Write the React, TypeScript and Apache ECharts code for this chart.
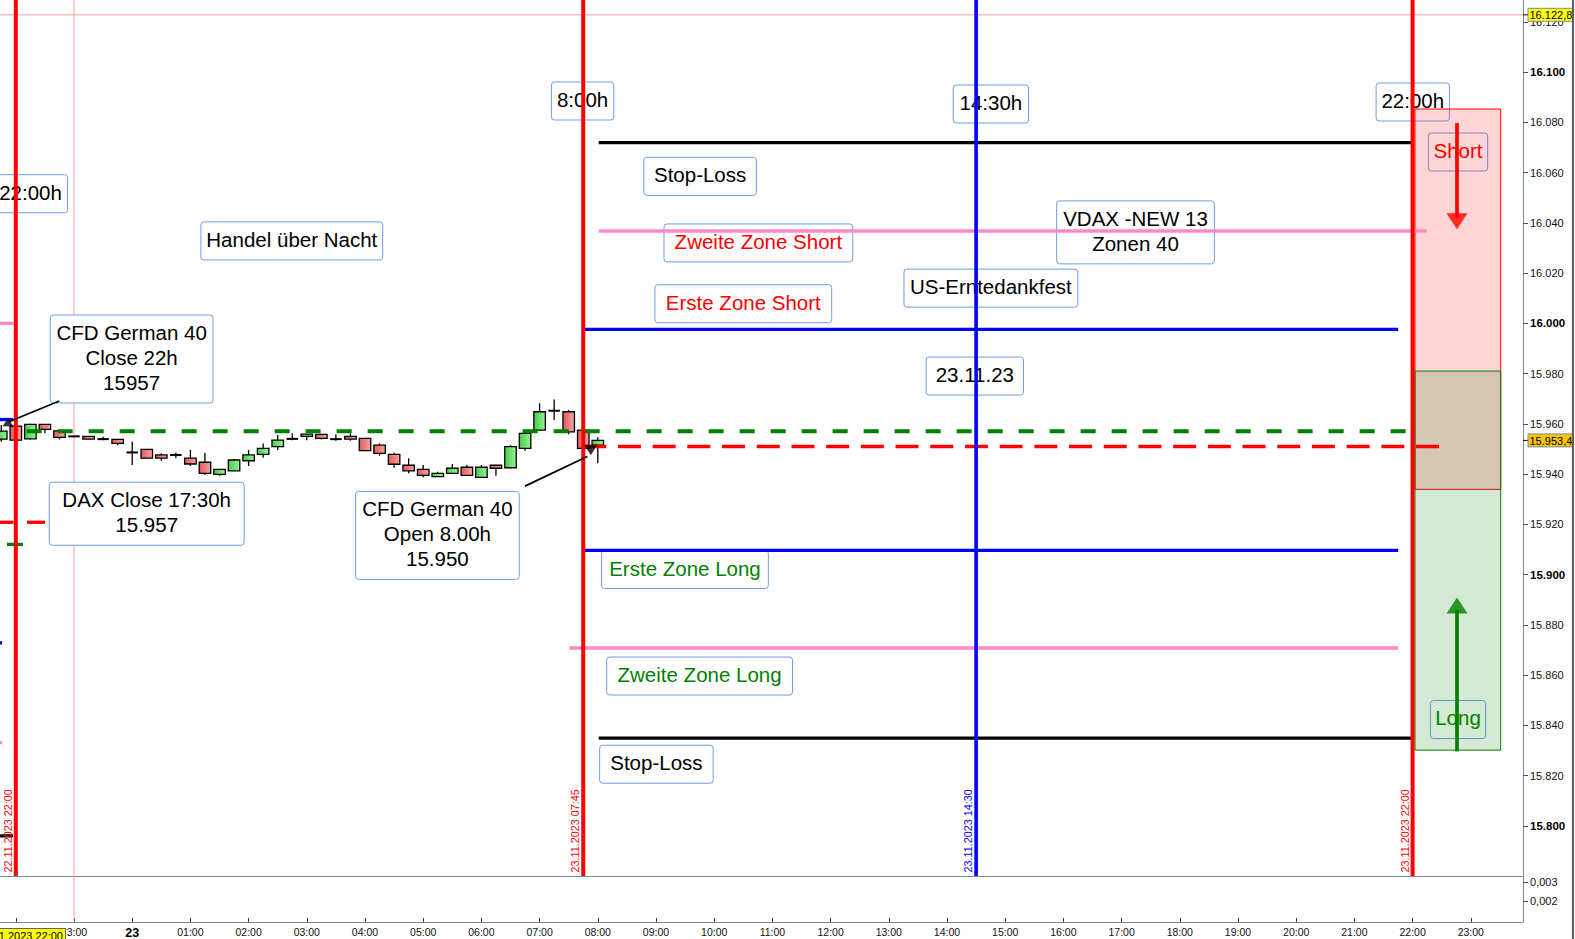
import React, { useEffect, useRef } from 'react';
import * as echarts from 'echarts';

// x values are hours relative to 23.11.2023 00:00 (negative = evening of 22.11.2023)
const X_MIN = -2.2715;
const X_MAX = 23.897;
const Y_MIN = 15780;
const Y_MAX = 16128.7;

// 15-minute candles
const candleTimes = [-2.25, -2, -1.75, -1.5, -1.25, -1, -0.75, -0.5, -0.25, 0, 0.25, 0.5, 0.75, 1, 1.25, 1.5, 1.75, 2, 2.25, 2.5, 2.75, 3, 3.25, 3.5, 3.75, 4, 4.25, 4.5, 4.75, 5, 5.25, 5.5, 5.75, 6, 6.25, 6.5, 6.75, 7, 7.25, 7.5, 7.75, 8];
const candleOpen = [15953.9, 15959.1, 15954.0, 15959.8, 15957.2, 15955.0, 15955.0, 15953.9, 15953.8, 15948.6, 15949.8, 15947.6, 15947.6, 15946.3, 15944.7, 15939.9, 15941.3, 15945.3, 15947.8, 15950.9, 15954.0, 15955.0, 15955.8, 15953.9, 15955.0, 15954.2, 15951.5, 15947.8, 15943.5, 15941.9, 15939.0, 15940.3, 15942.7, 15938.7, 15943.5, 15942.5, 15950.2, 15957.5, 15965.2, 15964.8, 15957.5, 15951.5];
const candleClose = [15957.1, 15953.5, 15959.8, 15957.8, 15954.6, 15955.0, 15953.9, 15953.9, 15952.2, 15948.6, 15946.3, 15946.3, 15947.6, 15944.0, 15940.3, 15941.9, 15945.6, 15947.6, 15950.2, 15953.5, 15954.0, 15955.9, 15954.2, 15953.9, 15953.9, 15949.3, 15948.2, 15943.9, 15941.3, 15939.5, 15940.3, 15942.3, 15939.5, 15942.7, 15942.3, 15950.9, 15956.2, 15964.8, 15965.2, 15956.8, 15950.2, 15953.4];
const candleLow = [15952.9, 15953.0, 15953.8, 15956.2, 15953.8, 15954.9, 15953.9, 15953.5, 15951.5, 15943.6, 15946.3, 15945.3, 15946.3, 15943.2, 15939.6, 15939.3, 15941.3, 15943.2, 15946.5, 15949.6, 15953.5, 15953.5, 15953.8, 15953.3, 15953.3, 15949.3, 15947.3, 15942.5, 15940.3, 15938.7, 15939.0, 15940.3, 15939.5, 15938.7, 15939.3, 15942.3, 15949.3, 15957.5, 15961.5, 15955.8, 15950.2, 15944.3];
const candleHigh = [15959.5, 15959.5, 15960.0, 15959.8, 15957.2, 15955.1, 15955.0, 15954.8, 15953.8, 15952.9, 15949.8, 15948.3, 15948.5, 15949.6, 15948.5, 15941.9, 15946.0, 15949.6, 15952.2, 15955.5, 15956.2, 15955.9, 15955.8, 15955.8, 15956.2, 15954.2, 15952.2, 15948.5, 15946.3, 15943.6, 15940.9, 15944.0, 15943.6, 15943.6, 15943.5, 15951.5, 15956.8, 15968.2, 15969.7, 15965.5, 15957.5, 15954.6];

// axis ticks
const priceTicks = [15800, 15820, 15840, 15860, 15880, 15900, 15920, 15940, 15960, 15980, 16000, 16020, 16040, 16060, 16080, 16100, 16120];
const hourTicks = [-2, -1, 0, 1, 2, 3, 4, 5, 6, 7, 8, 9, 10, 11, 12, 13, 14, 15, 16, 17, 18, 19, 20, 21, 22, 23];
const hourLabels = [-1, 0, 1, 2, 3, 4, 5, 6, 7, 8, 9, 10, 11, 12, 13, 14, 15, 16, 17, 18, 19, 20, 21, 22, 23];
const lowerTicks = [0.002, 0.003];

// trading levels (start hour, end hour, value)
const levelNames = ['Stop-Loss Short', 'Zweite Zone Short', 'Erste Zone Short', 'DAX Close', 'CFD Open', 'Erste Zone Long', 'Zweite Zone Long', 'Stop-Loss Long'];
const levelValues = [16071.9, 16036.7, 15997.6, 15957, 15951, 15909.6, 15870.8, 15834.9];
const levelStart = [8.016, 8.016, 7.756, -1.814, 7.75, 7.756, 7.514, 8.016];
const levelEnd = [22.007, 22.242, 21.753, 22.0, 22.529, 21.753, 21.753, 22.007];
const levelColor = ['#000000', '#ff88c8', '#0000ff', '#008000', '#ff0000', '#0000ff', '#ff88c8', '#000000'];
const levelWidth = [3.3, 3.5, 3.3, 4, 3.5, 3.3, 3.5, 3.3];
const levelDash: any[] = ['solid', 'solid', 'solid', [15, 16], [23, 11.7], 'solid', 'solid', 'solid'];

// previous day level remnants at the left edge
const prevValues = [16000, 15961.7, 15920.8, 15920.8, 15912.0, 15872.8, 15833.1, 15796];
const prevStart = [-2.2715, -2.2715, -2.2715, -1.808, -2.151, -2.2715, -2.2715, -2.2715];
const prevEnd = [-2.04, -2.048, -2.04, -1.498, -1.876, -2.237, -2.237, -2.048];
const prevColor = ['#ff88c8', '#0000ff', '#ff0000', '#ff0000', '#008000', '#0000ff', '#ff88c8', '#000000'];

// session vertical lines
const sessionTimes = [-2, 7.75, 14.5, 22];
const sessionLabels = ['22.11.2023 22:00', '23.11.2023 07:45', '23.11.2023 14:30', '23.11.2023 22:00'];
const sessionColor = ['#ff0000', '#ff0000', '#0000ff', '#ff0000'];

// zones
const zoneStart = [22.041, 22.041];
const zoneEnd = [23.514, 23.514];
const zoneTop = [16085.3, 15981];
const zoneBottom = [15933.9, 15830.1];
const zoneFill = ['rgba(255,0,0,0.165)', 'rgba(0,128,0,0.165)'];
const zoneStroke = ['#ff0000', '#008000'];

// arrows: shaft from -> to, head position
const arrowFromT = [-1.2526, 6.749, 22.763, 22.763];
const arrowFromV = [15969.1, 15935.2, 16079.7, 15829.6];
const arrowToT = [-2.12, 7.82, 22.763, 22.763];
const arrowToV = [15960.8, 15947.0, 16042.0, 15886.0];
const headT = [-2.134, 7.88, 22.763, 22.763];
const headV = [15960.6, 15949.6, 16040.6, 15887.7];
const arrowColor = ['#000000', '#000000', '#ff0000', '#008000'];
const arrowWidth = [1.7, 1.7, 3.7, 3.7];
const headSize = [[11, 8], [13, 10.5], [21, 16], [21, 16]];
const headRotate = [0, 180, 180, 0];

// price tags on the right axis
const tagValues = [16122.8, 15953.4];
const tagFill = ['#ffff00', '#f7c600'];

// annotation boxes
const noteTexts = ['22:00h', '8:00h', '14:30h', '22:00h', 'Stop-Loss', 'Handel über Nacht', 'Zweite Zone Short', 'VDAX -NEW 13\nZonen 40', 'US-Erntedankfest', 'Erste Zone Short', 'CFD German 40\nClose 22h\n15957', '23.11.23', 'DAX Close 17:30h\n15.957', 'CFD German 40\nOpen 8.00h\n15.950', 'Erste Zone Long', 'Zweite Zone Long', 'Stop-Loss', 'Short', 'Long'];
const noteT = [-1.747, 7.739, 14.754, 22.003, 9.758, 2.742, 10.759, 17.239, 14.754, 10.5, -0.01, 14.478, 0.249, 5.244, 9.498, 9.749, 9.007, 22.78, 22.78];
const noteV = [16051.6, 16088.5, 16087.3, 16088.1, 16058.5, 16032.8, 16032.0, 16036.2, 16014.0, 16007.8, 15985.8, 15979.0, 15924.2, 15915.6, 15902.0, 15859.6, 15824.5, 16068.2, 15842.3];
const noteWidth = [74, 62.3, 75.3, 73.3, 112.5, 181.8, 188.8, 157.7, 173.8, 176.8, 162.7, 97.4, 194.9, 163.7, 166.7, 185.8, 113.5, 59.3, 55.2];
const noteColor = ['#000', '#000', '#000', '#000', '#000', '#000', '#ff0000', '#000', '#000', '#ff0000', '#000', '#000', '#000', '#000', '#008000', '#008000', '#000', '#ff0000', '#008000'];

const CROSS_T = -1;
const FONT = '"Liberation Sans", Arial, sans-serif';
const AXIS_GRAY = '#7c8a96';

function fmtDE(v: number): string {
  const s = v.toFixed(1);
  const [i, d] = s.split('.');
  return i.slice(0, -3) + '.' + i.slice(-3) + ',' + d;
}

function seg(pts: number[][], color: string, width: number, type: any, z: number, gi = 0) {
  return {
    type: 'line', xAxisIndex: gi, yAxisIndex: gi, data: pts, symbol: 'none', silent: true, z,
    lineStyle: { color, width, type, cap: 'butt' }, animation: false,
  };
}

function buildOption() {
  const redGrad = new echarts.graphic.LinearGradient(0, 0, 1, 0, [
    { offset: 0, color: '#e25a5a' }, { offset: 1, color: '#f5a3a3' },
  ]);
  const greenGrad = new echarts.graphic.LinearGradient(0, 0, 1, 0, [
    { offset: 0, color: '#46cf46' }, { offset: 1, color: '#9bef9b' },
  ]);

  const series: any[] = [];

  // crosshair
  series.push(seg([[CROSS_T, Y_MIN], [CROSS_T, Y_MAX]], '#ff9a9a', 1, 'solid', 1));
  series.push(seg([[CROSS_T, 0.00085], [CROSS_T, 0.00335]], '#ff9a9a', 1, 'solid', 1, 1));
  series.push(seg([[X_MIN, tagValues[0]], [X_MAX, tagValues[0]]], '#ff9a9a', 1, 'solid', 1));

  // annotation boxes
  series.push({
    type: 'custom', xAxisIndex: 0, yAxisIndex: 0, z: 2, silent: true,
    data: noteT.map((t, i) => [t, noteV[i], i]),
    encode: { x: 0, y: 1 },
    renderItem: (params: any, api: any) => {
      const idx = api.value(2);
      const p = api.coord([api.value(0), api.value(1)]);
      const text = noteTexts[idx];
      const lines = text.split('\n').length;
      const w = noteWidth[idx];
      const h = lines * 25 + 13;
      return {
        type: 'group',
        children: [
          { type: 'rect', shape: { x: p[0] - w / 2, y: p[1] - h / 2, width: w, height: h, r: 3 },
            style: { fill: '#ffffff', stroke: '#6d9eeb', lineWidth: 1 } },
          { type: 'text', x: p[0], y: p[1] - 1.5,
            style: { text, fill: noteColor[idx], fontSize: 20.5, fontFamily: FONT, align: 'center', verticalAlign: 'middle', lineHeight: 25 } },
        ],
      };
    },
  });

  // candles
  series.push({
    type: 'custom', xAxisIndex: 0, yAxisIndex: 0, z: 3, silent: true, clip: true,
    data: candleTimes.map((t, i) => [t, candleOpen[i], candleClose[i], candleLow[i], candleHigh[i]]),
    encode: { x: 0, y: [1, 2, 3, 4] },
    renderItem: (params: any, api: any) => {
      const t = api.value(0), o = api.value(1), c = api.value(2), l = api.value(3), h = api.value(4);
      const pO = api.coord([t, o]);
      const pC = api.coord([t, c]);
      const pL = api.coord([t, l]);
      const pH = api.coord([t, h]);
      const w = 11.5;
      const top = Math.min(pO[1], pC[1]);
      const bot = Math.max(pO[1], pC[1]);
      const doji = Math.abs(c - o) < 0.05;
      const children: any[] = [
        { type: 'line', shape: { x1: pH[0], y1: pH[1], x2: pL[0], y2: pL[1] }, style: { stroke: '#000', lineWidth: 1.3 } },
      ];
      if (doji) {
        children.push({ type: 'rect', shape: { x: pO[0] - w / 2, y: pO[1] - 1, width: w, height: 2 }, style: { fill: '#000' } });
      } else {
        children.push({ type: 'rect', shape: { x: pO[0] - w / 2, y: top, width: w, height: bot - top },
          style: { fill: c > o ? greenGrad : redGrad, stroke: '#000', lineWidth: 1.3 } });
      }
      return { type: 'group', children };
    },
  });

  // zones
  series.push({
    type: 'custom', xAxisIndex: 0, yAxisIndex: 0, z: 4, silent: true,
    data: zoneStart.map((s, i) => [s, zoneTop[i], zoneEnd[i], zoneBottom[i], i]),
    encode: { x: [0, 2], y: [1, 3] },
    renderItem: (params: any, api: any) => {
      const i = api.value(4);
      const p1 = api.coord([api.value(0), api.value(1)]);
      const p2 = api.coord([api.value(2), api.value(3)]);
      return {
        type: 'rect', shape: { x: p1[0], y: p1[1], width: p2[0] - p1[0], height: p2[1] - p1[1] },
        style: { fill: zoneFill[i], stroke: zoneStroke[i], lineWidth: 1 },
      };
    },
  });

  // previous-day remnants
  prevValues.forEach((v, i) => {
    series.push(seg([[prevStart[i], v], [prevEnd[i], v]], prevColor[i], 3.3, 'solid', 5));
  });

  // level lines
  levelValues.forEach((v, i) => {
    const s: any = seg([[levelStart[i], v], [levelEnd[i], v]], levelColor[i], levelWidth[i], levelDash[i], 5);
    s.name = levelNames[i];
    series.push(s);
  });

  // session vertical lines
  sessionTimes.forEach((t, i) => {
    series.push(seg([[t, Y_MIN], [t, Y_MAX]], sessionColor[i], i === 2 ? 3.6 : 4, 'solid', 6));
  });

  // arrows
  arrowFromT.forEach((t, i) => {
    series.push(seg([[t, arrowFromV[i]], [arrowToT[i], arrowToV[i]]], arrowColor[i], arrowWidth[i], 'solid', 7));
  });
  series.push({
    type: 'scatter', xAxisIndex: 0, yAxisIndex: 0, z: 7, silent: true,
    data: headT.map((t, i) => ({
      value: [t, headV[i]], symbol: 'triangle', symbolSize: headSize[i], symbolRotate: headRotate[i],
      itemStyle: { color: arrowColor[i] },
    })),
  });

  // session labels (rotated)
  series.push({
    type: 'custom', xAxisIndex: 0, yAxisIndex: 0, z: 7, silent: true,
    data: sessionTimes.map((t, i) => [t, Y_MIN, i]),
    encode: { x: 0, y: 1 },
    renderItem: (params: any, api: any) => {
      const i = api.value(2);
      const p = api.coord([api.value(0), api.value(1)]);
      return {
        type: 'text', x: p[0] - 2.4, y: p[1] - 3.5, rotation: Math.PI / 2,
        style: { text: sessionLabels[i], fill: sessionColor[i], fontSize: 10.8, fontFamily: FONT, align: 'left', verticalAlign: 'bottom' },
      };
    },
  });

  // price tags on axis
  series.push({
    type: 'custom', xAxisIndex: 0, yAxisIndex: 0, z: 8, silent: true,
    data: tagValues.map((v, i) => [X_MAX, v, i]),
    encode: { x: 0, y: 1 },
    renderItem: (params: any, api: any) => {
      const i = api.value(2);
      const v = api.value(1);
      const p = api.coord([api.value(0), v]);
      return {
        type: 'group',
        children: [
          { type: 'line', shape: { x1: p[0], y1: p[1], x2: p[0] + 5, y2: p[1] }, style: { stroke: '#000', lineWidth: 1 } },
          { type: 'rect', shape: { x: p[0] + 5, y: p[1] - 6.5, width: 45, height: 13 }, style: { fill: tagFill[i], stroke: '#7d8c97', lineWidth: 1 } },
          { type: 'text', x: p[0] + 6.5, y: p[1] + 0.5, style: { text: fmtDE(v), fill: '#000', fontSize: 11, fontFamily: FONT, align: 'left', verticalAlign: 'middle' } },
        ],
      };
    },
  });

  return {
    animation: false,
    backgroundColor: '#ffffff',
    textStyle: { fontFamily: FONT },
    grid: [
      { left: 0, right: 52, top: 0, height: 876 },
      { left: 0, right: 52, top: 876, height: 49 },
    ],
    xAxis: [
      {
        type: 'value', gridIndex: 0, min: X_MIN, max: X_MAX, position: 'bottom',
        axisLine: { show: true, onZero: false, lineStyle: { color: AXIS_GRAY, width: 1 } },
        axisTick: { show: false }, axisLabel: { show: false }, splitLine: { show: false },
      },
      {
        type: 'value', gridIndex: 1, min: X_MIN, max: X_MAX, position: 'bottom',
        axisLine: { show: true, onZero: false, lineStyle: { color: AXIS_GRAY, width: 1 } },
        axisTick: { show: true, inside: true, length: 4, customValues: hourTicks, lineStyle: { color: '#333' } },
        axisLabel: {
          show: true, customValues: hourLabels, margin: 4, fontSize: 10.5, color: '#111',
          formatter: (v: number) => {
            const h = ((Math.round(v) % 24) + 24) % 24;
            if (Math.round(v) === 0) return '{b|23}';
            return (h < 10 ? '0' + h : '' + h) + ':00';
          },
          rich: { b: { fontWeight: 'bold', fontSize: 12.5, color: '#000' } },
        },
        splitLine: { show: false },
      },
    ],
    yAxis: [
      {
        type: 'value', gridIndex: 0, position: 'right', min: Y_MIN, max: Y_MAX,
        axisLine: { show: true, onZero: false, lineStyle: { color: AXIS_GRAY, width: 1 } },
        axisTick: { show: true, length: 5, customValues: priceTicks, lineStyle: { color: '#555' } },
        axisLabel: {
          show: true, customValues: priceTicks, margin: 7, fontSize: 11, color: '#111',
          formatter: (v: number) => {
            const s = (v / 1000).toFixed(3);
            return Math.round(v) % 100 === 0 ? '{b|' + s + '}' : s;
          },
          rich: { b: { fontWeight: 'bold', fontSize: 11.5, color: '#000' } },
        },
        splitLine: { show: false },
      },
      {
        type: 'value', gridIndex: 1, position: 'right', min: 0.00085, max: 0.00335,
        axisLine: { show: true, onZero: false, lineStyle: { color: AXIS_GRAY, width: 1 } },
        axisTick: { show: true, length: 5, customValues: lowerTicks, lineStyle: { color: '#555' } },
        axisLabel: {
          show: true, customValues: lowerTicks, margin: 7, fontSize: 11, color: '#111',
          formatter: (v: number) => v.toFixed(3).replace('.', ','),
        },
        splitLine: { show: false },
      },
    ],
    graphic: [
      { type: 'line', z: 100, shape: { x1: 1573, y1: 0, x2: 1573, y2: 939 }, style: { stroke: '#55606a', lineWidth: 2 } },
      {
        type: 'text', z: 100, x: 65, y: 929,
        style: {
          text: '22.11.2023 22:00', align: 'right', verticalAlign: 'top', fill: '#000', fontSize: 11, fontFamily: FONT,
          backgroundColor: '#ffff00', borderColor: '#5a6670', borderWidth: 1, padding: [1, 2, 2, 2],
        },
      },
    ],
    series,
  };
}

export default function App() {
  const ref = useRef<HTMLDivElement>(null);
  useEffect(() => {
    document.body.style.margin = '0';
    const chart = echarts.init(ref.current as HTMLDivElement, null, { renderer: 'svg' });
    chart.setOption(buildOption() as any);
    return () => chart.dispose();
  }, []);
  return <div ref={ref} style={{ width: 1575, height: 939 }} />;
}
